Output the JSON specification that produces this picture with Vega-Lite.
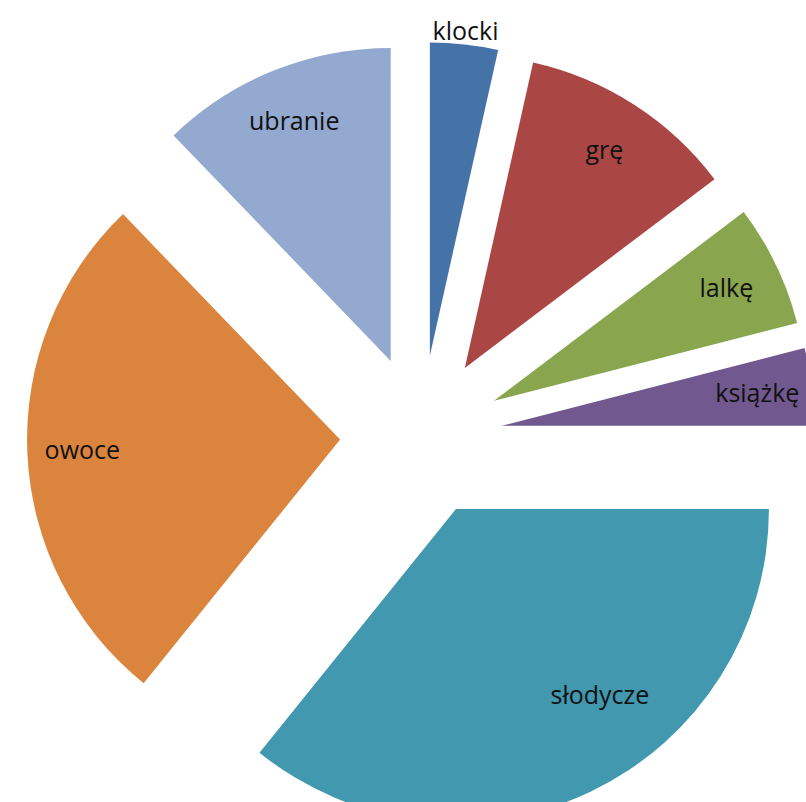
{
  "$schema": "https://vega.github.io/schema/vega-lite/v6.json",
  "width": 806,
  "height": 802,
  "autosize": "none",
  "padding": 0,
  "background": "white",
  "config": {"view": {"stroke": null}},
  "data": {
    "values": [
      {"kategoria": "klocki", "wartosc": 3.5, "kolejnosc": 1},
      {"kategoria": "grę", "wartosc": 11.2, "kolejnosc": 2},
      {"kategoria": "lalkę", "wartosc": 6.3, "kolejnosc": 3},
      {"kategoria": "książkę", "wartosc": 4.0, "kolejnosc": 4},
      {"kategoria": "słodycze", "wartosc": 35.8, "kolejnosc": 5},
      {"kategoria": "owoce", "wartosc": 27.0, "kolejnosc": 6},
      {"kategoria": "ubranie", "wartosc": 12.2, "kolejnosc": 7}
    ]
  },
  "encoding": {
    "theta": {"field": "wartosc", "type": "quantitative", "stack": true},
    "order": {"field": "kolejnosc", "type": "quantitative"}
  },
  "layer": [
    {
      "mark": {
        "type": "arc",
        "outerRadius": 313,
        "stroke": null,
        "x": {"expr": "width/2 + 18 + 81*sin(scale('theta', (datum.wartosc_start + datum.wartosc_end)/2))"},
        "y": {"expr": "height/2 + 35 - 81*cos(scale('theta', (datum.wartosc_start + datum.wartosc_end)/2))"}
      },
      "encoding": {
        "color": {
          "field": "kategoria",
          "type": "nominal",
          "scale": {
            "domain": ["klocki", "grę", "lalkę", "książkę", "słodycze", "owoce", "ubranie"],
            "range": ["#4572A7", "#AA4643", "#89A54E", "#71588F", "#4198AF", "#DB843D", "#93A9CF"]
          },
          "legend": null
        }
      }
    },
    {
      "mark": {
        "type": "text",
        "font": "Open Sans",
        "fontSize": 25,
        "color": "#111111",
        "align": "center",
        "baseline": "middle",
        "radius": 0,
        "x": {"expr": "width/2 + 18 + 81*sin(scale('theta', (datum.wartosc_start + datum.wartosc_end)/2)) + ((datum.wartosc_end - datum.wartosc_start) < 3.8 ? 325 : ((datum.wartosc_end - datum.wartosc_start) > 30 ? 236 : 258)) * sin(scale('theta', (datum.wartosc_start + datum.wartosc_end)/2) - ((datum.wartosc_end - datum.wartosc_start) > 30 ? 0.21 : 0))"},
        "y": {"expr": "height/2 + 35 - 81*cos(scale('theta', (datum.wartosc_start + datum.wartosc_end)/2)) - ((datum.wartosc_end - datum.wartosc_start) < 3.8 ? 325 : ((datum.wartosc_end - datum.wartosc_start) > 30 ? 236 : 258)) * cos(scale('theta', (datum.wartosc_start + datum.wartosc_end)/2) - ((datum.wartosc_end - datum.wartosc_start) > 30 ? 0.21 : 0))"}
      },
      "encoding": {
        "text": {"field": "kategoria", "type": "nominal"}
      }
    }
  ]
}
